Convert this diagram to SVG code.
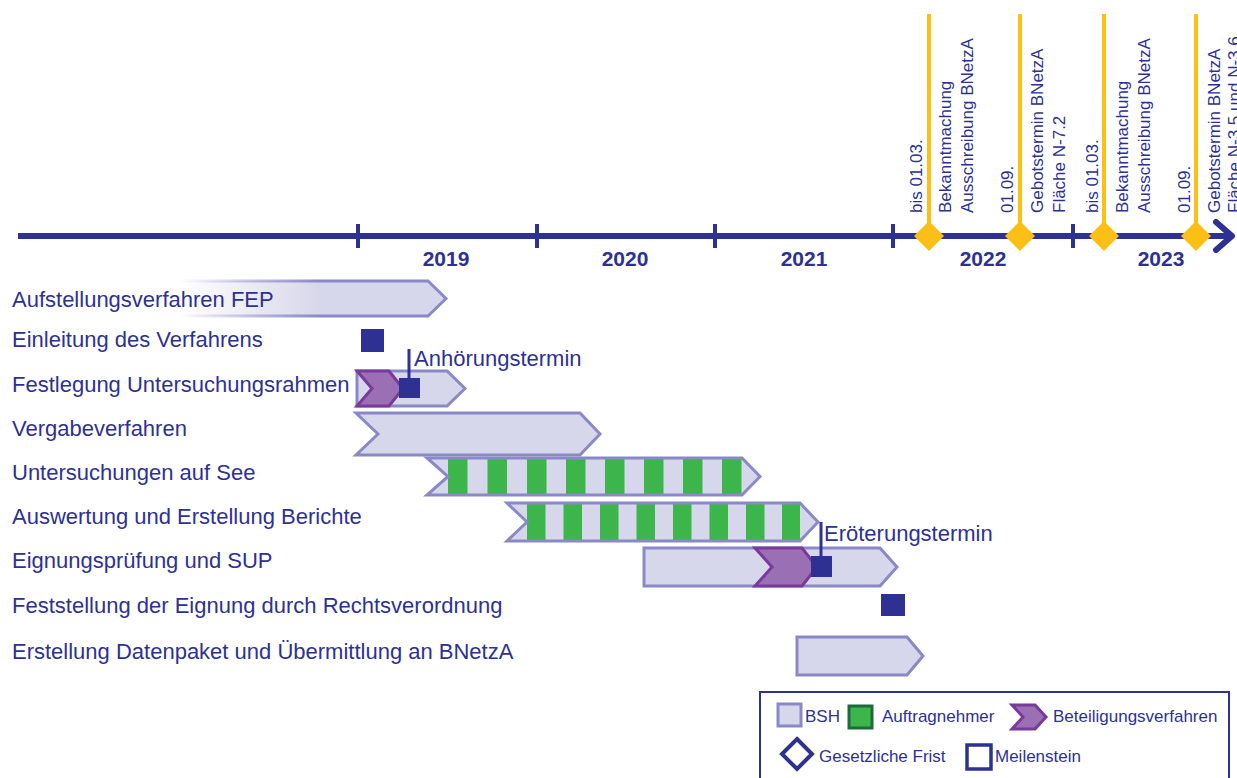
<svg xmlns="http://www.w3.org/2000/svg" width="1237" height="778" viewBox="0 0 1237 778">
  <defs>
    <style>
      text { font-family: "Liberation Sans", Arial, sans-serif; fill: #2e3192; }
      .lbl { font-size: 22px; }
      .yr { font-size: 21px; font-weight: bold; text-anchor: middle; }
      .vt { font-size: 17px; }
      .lg { font-size: 17px; }
      .bar { fill: #d7d7eb; stroke: #8a88c6; stroke-width: 3; stroke-linejoin: miter; }
      .outline { fill: none; stroke: #8a88c6; stroke-width: 3; }
      .chev { fill: #9b6fb4; stroke: #7a3a9c; stroke-width: 3; }
      .ms { fill: #2e3192; }
      .green { fill: #3cb54a; }
      .axis { stroke: #2e3192; stroke-width: 6; fill: none; }
      .tick { stroke: #2e3192; stroke-width: 4; }
      .yl { stroke: #fbbf16; stroke-width: 4; }
      .dia { fill: #fbbf16; }
      .lead { stroke: #2e3192; stroke-width: 3; fill: none; }
    </style>
    <linearGradient id="fadeFill" gradientUnits="userSpaceOnUse" x1="180" y1="0" x2="320" y2="0">
      <stop offset="0" stop-color="#d7d7eb" stop-opacity="0"/>
      <stop offset="1" stop-color="#d7d7eb" stop-opacity="1"/>
    </linearGradient>
    <linearGradient id="fadeStroke" gradientUnits="userSpaceOnUse" x1="180" y1="0" x2="320" y2="0">
      <stop offset="0" stop-color="#8a88c6" stop-opacity="0"/>
      <stop offset="1" stop-color="#8a88c6" stop-opacity="1"/>
    </linearGradient>
  </defs>

  <!-- time axis -->
  <g id="axis">
    <line class="axis" x1="18" y1="236" x2="1228" y2="236"/>
    <polyline class="axis" points="1216,222 1232,236 1216,250" stroke-linecap="round" stroke-linejoin="round"/>
    <line class="tick" x1="358" y1="224" x2="358" y2="248"/>
    <line class="tick" x1="537" y1="224" x2="537" y2="248"/>
    <line class="tick" x1="715" y1="224" x2="715" y2="248"/>
    <line class="tick" x1="893" y1="224" x2="893" y2="248"/>
    <line class="tick" x1="1073" y1="224" x2="1073" y2="248"/>
    <text class="yr" x="446" y="266">2019</text>
    <text class="yr" x="625" y="266">2020</text>
    <text class="yr" x="804" y="266">2021</text>
    <text class="yr" x="983" y="266">2022</text>
    <text class="yr" x="1161" y="266">2023</text>
  </g>

  <!-- statutory deadlines -->
  <g id="deadline-2022-03">
    <line class="yl" x1="929" y1="14" x2="929" y2="236"/>
    <polygon class="dia" points="929,221 944,236 929,251 914,236"/>
    <text class="vt" transform="translate(922,213) rotate(-90)">bis 01.03.</text>
    <text class="vt" transform="translate(951,213) rotate(-90)">Bekanntmachung</text>
    <text class="vt" transform="translate(973,213) rotate(-90)">Ausschreibung BNetzA</text>
  </g>
  <g id="deadline-2022-09">
    <line class="yl" x1="1020" y1="14" x2="1020" y2="236"/>
    <polygon class="dia" points="1020,221 1035,236 1020,251 1005,236"/>
    <text class="vt" transform="translate(1013,213) rotate(-90)">01.09.</text>
    <text class="vt" transform="translate(1043,213) rotate(-90)">Gebotstermin BNetzA</text>
    <text class="vt" transform="translate(1065,213) rotate(-90)">Fläche N-7.2</text>
  </g>
  <g id="deadline-2023-03">
    <line class="yl" x1="1104" y1="14" x2="1104" y2="236"/>
    <polygon class="dia" points="1104,221 1119,236 1104,251 1089,236"/>
    <text class="vt" transform="translate(1098,213) rotate(-90)">bis 01.03.</text>
    <text class="vt" transform="translate(1128,213) rotate(-90)">Bekanntmachung</text>
    <text class="vt" transform="translate(1150,213) rotate(-90)">Ausschreibung BNetzA</text>
  </g>
  <g id="deadline-2023-09">
    <line class="yl" x1="1196" y1="14" x2="1196" y2="236"/>
    <polygon class="dia" points="1196,221 1211,236 1196,251 1181,236"/>
    <text class="vt" transform="translate(1190,213) rotate(-90)">01.09.</text>
    <text class="vt" transform="translate(1220,213) rotate(-90)">Gebotstermin BNetzA</text>
    <text class="vt" transform="translate(1240,213) rotate(-90)">Fläche N-3.5 und N-3.6</text>
  </g>

  <!-- process rows -->
  <g id="row-fep">
    <polygon points="180,281 428,281 446,298.5 428,316 180,316" fill="url(#fadeFill)" stroke="url(#fadeStroke)" stroke-width="3"/>
    <text class="lbl" x="12" y="307">Aufstellungsverfahren FEP</text>
  </g>
  <g id="row-einleitung">
    <rect class="ms" x="361" y="329" width="23" height="23"/>
    <text class="lbl" x="12" y="347">Einleitung des Verfahrens</text>
  </g>
  <g id="row-festlegung">
    <polygon class="bar" points="357,371 447,371 465,388.5 447,406 357,406"/>
    <polygon class="chev" points="357,371 389,371 403,388.5 389,406 357,406 372,388.5"/>
    <rect class="ms" x="399" y="378" width="21" height="20"/>
    <text class="lbl" x="12" y="392">Festlegung Untersuchungsrahmen</text>
  </g>
  <g id="row-vergabe">
    <polygon class="bar" points="356,413 580,413 600,434 580,455 356,455 378,434"/>
    <text class="lbl" x="12" y="436">Vergabeverfahren</text>
  </g>
  <g id="row-untersuchungen">
    <polygon points="427,458 742,458 760,476.5 742,495 427,495 448,476.5" fill="#d7d7eb"/>
    <g class="green">
      <rect x="448" y="459" width="19.5" height="35"/>
      <rect x="487.5" y="459" width="19.5" height="35"/>
      <rect x="527" y="459" width="19.5" height="35"/>
      <rect x="566" y="459" width="19.5" height="35"/>
      <rect x="605" y="459" width="19.5" height="35"/>
      <rect x="644" y="459" width="19.5" height="35"/>
      <rect x="683" y="459" width="19.5" height="35"/>
      <rect x="722" y="459" width="19.5" height="35"/>
    </g>
    <polygon class="outline" points="427,458 742,458 760,476.5 742,495 427,495 448,476.5"/>
    <text class="lbl" x="12" y="480">Untersuchungen auf See</text>
  </g>
  <g id="row-auswertung">
    <polygon points="507,503 800,503 818,522 800,541 507,541 527,522" fill="#d7d7eb"/>
    <g class="green">
      <rect x="527" y="504" width="18.5" height="36"/>
      <rect x="563.5" y="504" width="18.5" height="36"/>
      <rect x="600" y="504" width="18.5" height="36"/>
      <rect x="636.5" y="504" width="18.5" height="36"/>
      <rect x="673" y="504" width="18.5" height="36"/>
      <rect x="709.5" y="504" width="18.5" height="36"/>
      <rect x="746" y="504" width="18.5" height="36"/>
      <rect x="782" y="504" width="18" height="36"/>
    </g>
    <polygon class="outline" points="507,503 800,503 818,522 800,541 507,541 527,522"/>
    <text class="lbl" x="12" y="524">Auswertung und Erstellung Berichte</text>
  </g>
  <g id="row-eignungspruefung">
    <polygon class="bar" points="644,548 880,548 897,567 880,586 644,586"/>
    <polygon class="chev" points="755,548 802,548 817,567 802,586 755,586 772,567"/>
    <rect class="ms" x="811" y="556" width="21" height="21"/>
    <text class="lbl" x="12" y="568">Eignungsprüfung und SUP</text>
  </g>
  <g id="row-feststellung">
    <rect class="ms" x="881" y="594" width="24" height="22"/>
    <text class="lbl" x="12" y="613">Feststellung der Eignung durch Rechtsverordnung</text>
  </g>
  <g id="row-datenpaket">
    <polygon class="bar" points="797,637 907,637 923,656 907,675 797,675"/>
    <text class="lbl" x="12" y="659">Erstellung Datenpaket und Übermittlung an BNetzA</text>
  </g>

  <!-- milestone leaders -->
  <g id="connectors">
    <line class="lead" x1="409" y1="349" x2="409" y2="380"/>
    <line class="lead" x1="821" y1="522" x2="821" y2="558"/>
  </g>
  <g id="milestone-labels">
    <text class="lbl" x="414" y="366">Anhörungstermin</text>
    <text class="lbl" x="824" y="541">Eröterungstermin</text>
  </g>

  <!-- legend -->
  <g id="legend">
    <rect x="760" y="692" width="469" height="100" fill="none" stroke="#2e3192" stroke-width="2"/>
    <rect class="bar" x="778" y="704" width="23" height="22"/>
    <text class="lg" x="805" y="722">BSH</text>
    <rect x="849" y="706" width="23" height="22" fill="#3cb54a" stroke="#1d6b3c" stroke-width="3"/>
    <text class="lg" x="882" y="722">Auftragnehmer</text>
    <polygon class="chev" points="1012,705 1035,705 1046,717 1035,729 1012,729 1023,717" stroke-width="2.5"/>
    <text class="lg" x="1053" y="722">Beteiligungsverfahren</text>
    <polygon points="797,739 812,754 797,769 782,754" fill="none" stroke="#2e3192" stroke-width="4"/>
    <text class="lg" x="819" y="762">Gesetzliche Frist</text>
    <rect x="967" y="745" width="24" height="24" fill="none" stroke="#2e3192" stroke-width="3.5"/>
    <text class="lg" x="995" y="762">Meilenstein</text>
  </g>
</svg>
